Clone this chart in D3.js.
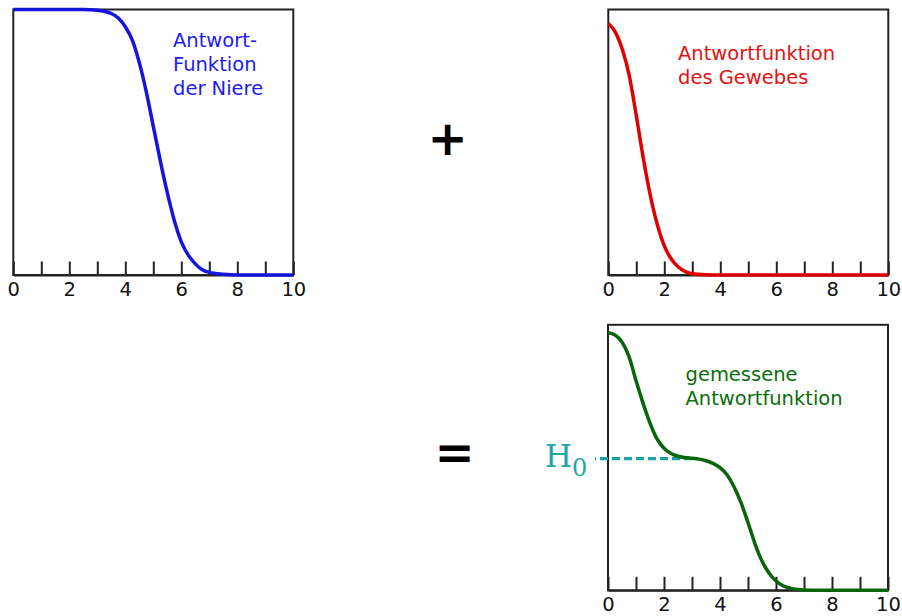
<!DOCTYPE html>
<html>
<head>
<meta charset="utf-8">
<script src="https://cdn.jsdelivr.net/npm/d3@7"></script>
<style>
  html, body { margin: 0; padding: 0; background: #fff; }
  svg { display: block; }
</style>
</head>
<body>
<svg id="chart" width="902" height="616"></svg>
<script>
// ---- data ----
const xTicks = [0, 1, 2, 3, 4, 5, 6, 7, 8, 9, 10];
const xTickLabels = ["0", "2", "4", "6", "8", "10"];

const kidneyX = [0, 0.5, 1, 1.5, 2, 2.5, 3, 3.25, 3.5, 3.75, 4, 4.25, 4.5, 4.75, 5, 5.25, 5.5, 5.75, 6, 6.25, 6.5, 6.75, 7, 7.5, 8, 9, 10];
const kidneyY = [1, 1, 1, 1, 1, 1, 0.997, 0.993, 0.985, 0.968, 0.935, 0.885, 0.8, 0.69, 0.56, 0.43, 0.31, 0.205, 0.125, 0.075, 0.042, 0.02, 0.01, 0.003, 0, 0, 0];

const tissueX = [0, 0.25, 0.5, 0.75, 1, 1.25, 1.5, 1.75, 2, 2.25, 2.5, 2.75, 3, 3.5, 4, 5, 6, 7, 8, 9, 10];
const tissueY = [0.947, 0.915, 0.85, 0.75, 0.6, 0.44, 0.3, 0.19, 0.11, 0.06, 0.03, 0.013, 0.005, 0.001, 0, 0, 0, 0, 0, 0, 0];

const measuredX = [0, 0.25, 0.5, 0.75, 1, 1.25, 1.5, 1.75, 2, 2.25, 2.5, 2.75, 3, 3.25, 3.5, 3.75, 4, 4.25, 4.5, 4.75, 5, 5.25, 5.5, 5.75, 6, 6.25, 6.5, 6.75, 7, 7.5, 8, 9, 10];
const measuredY = [0.97, 0.962, 0.935, 0.88, 0.79, 0.705, 0.63, 0.57, 0.535, 0.515, 0.505, 0.5, 0.497, 0.494, 0.488, 0.478, 0.462, 0.435, 0.39, 0.33, 0.255, 0.175, 0.11, 0.065, 0.035, 0.017, 0.008, 0.003, 0.001, 0, 0, 0, 0];

const H0 = 0.496;
const H0end = 3.0;

const kidneyLabel = ["Antwort-", "Funktion", "der Niere"];
const tissueLabel = ["Antwortfunktion", "des Gewebes"];
const measuredLabel = ["gemessene", "Antwortfunktion"];

// ---- drawing ----
const svg = d3.select("#chart");
const W = 280, H = 265.5;
const FONT = "'DejaVu Sans', sans-serif";

function panel(left, top, xs, ys, color, labelLines, lx, ly, textColor) {
  const x = d3.scaleLinear().domain([0, 10]).range([left, left + W]);
  const y = d3.scaleLinear().domain([0, 1]).range([top + H, top]);
  const g = svg.append("g");

  g.append("rect")
    .attr("x", left).attr("y", top).attr("width", W).attr("height", H)
    .attr("fill", "none").attr("stroke", "#222").attr("stroke-width", 2);

  const axis = d3.axisBottom(x)
    .tickValues(xTicks)
    .tickSize(-13.5)
    .tickSizeOuter(0)
    .tickPadding(7)
    .tickFormat(d => xTickLabels.includes(String(d)) ? String(d) : "");
  const ag = g.append("g").attr("transform", `translate(0,${top + H})`).call(axis);
  ag.select(".domain").attr("stroke", "#222").attr("stroke-width", 2);
  ag.selectAll(".tick line").attr("stroke", "#222").attr("stroke-width", 2);
  ag.selectAll(".tick text")
    .attr("font-family", FONT).attr("font-size", 19.5).attr("fill", "#111");

  const pts = xs.map((d, i) => [d, ys[i]]);
  g.append("path")
    .attr("class", "curve")
    .datum(pts)
    .attr("d", d3.line().x(d => x(d[0])).y(d => y(d[1])).curve(d3.curveMonotoneX))
    .attr("fill", "none").attr("stroke", color).attr("stroke-width", 3.5)
    .attr("stroke-linecap", "butt").attr("stroke-linejoin", "round");

  const t = g.append("text")
    .attr("font-family", FONT).attr("font-size", 19.5).attr("fill", textColor);
  labelLines.forEach((s, i) => {
    t.append("tspan").attr("x", lx).attr("y", ly + i * 24).text(s);
  });
  return { x, y, g };
}

panel(13.3, 9.5, kidneyX, kidneyY, "#1414dc", kidneyLabel, 173, 46.5, "#1c1cee");
panel(608.3, 9.5, tissueX, tissueY, "#e00000", tissueLabel, 678, 59.5, "#e41212");
const p3 = panel(608, 324.8, measuredX, measuredY, "#0a640a", measuredLabel, 685.5, 380.5, "#0b6e0b");

// H0 dashed line (drawn from the curve leftwards)
p3.g.insert("line", ".curve")
  .attr("x1", p3.x(H0end)).attr("x2", p3.x(0) - 13)
  .attr("y1", p3.y(H0)).attr("y2", p3.y(H0))
  .attr("stroke", "#1aa3a3").attr("stroke-width", 3.4)
  .attr("stroke-dasharray", "8,4");

// H0 label
const h0 = svg.append("text")
  .attr("x", 545).attr("y", p3.y(H0) + 8)
  .attr("font-family", "'DejaVu Serif', serif").attr("font-size", 31)
  .attr("fill", "#1fa5a5");
h0.append("tspan").text("H");
h0.append("tspan").attr("font-size", 24).attr("dy", 9).text("0");

// operators
svg.append("text")
  .attr("x", 447.5).attr("y", 154.5).attr("text-anchor", "middle")
  .attr("font-family", "'DejaVu Sans', sans-serif").attr("font-weight", "bold")
  .attr("font-size", 48).attr("fill", "#000").text("+");
svg.append("text")
  .attr("x", 454.5).attr("y", 469).attr("text-anchor", "middle")
  .attr("font-family", "'DejaVu Sans', sans-serif").attr("font-weight", "bold")
  .attr("font-size", 48).attr("fill", "#000").text("=");
</script>
</body>
</html>
